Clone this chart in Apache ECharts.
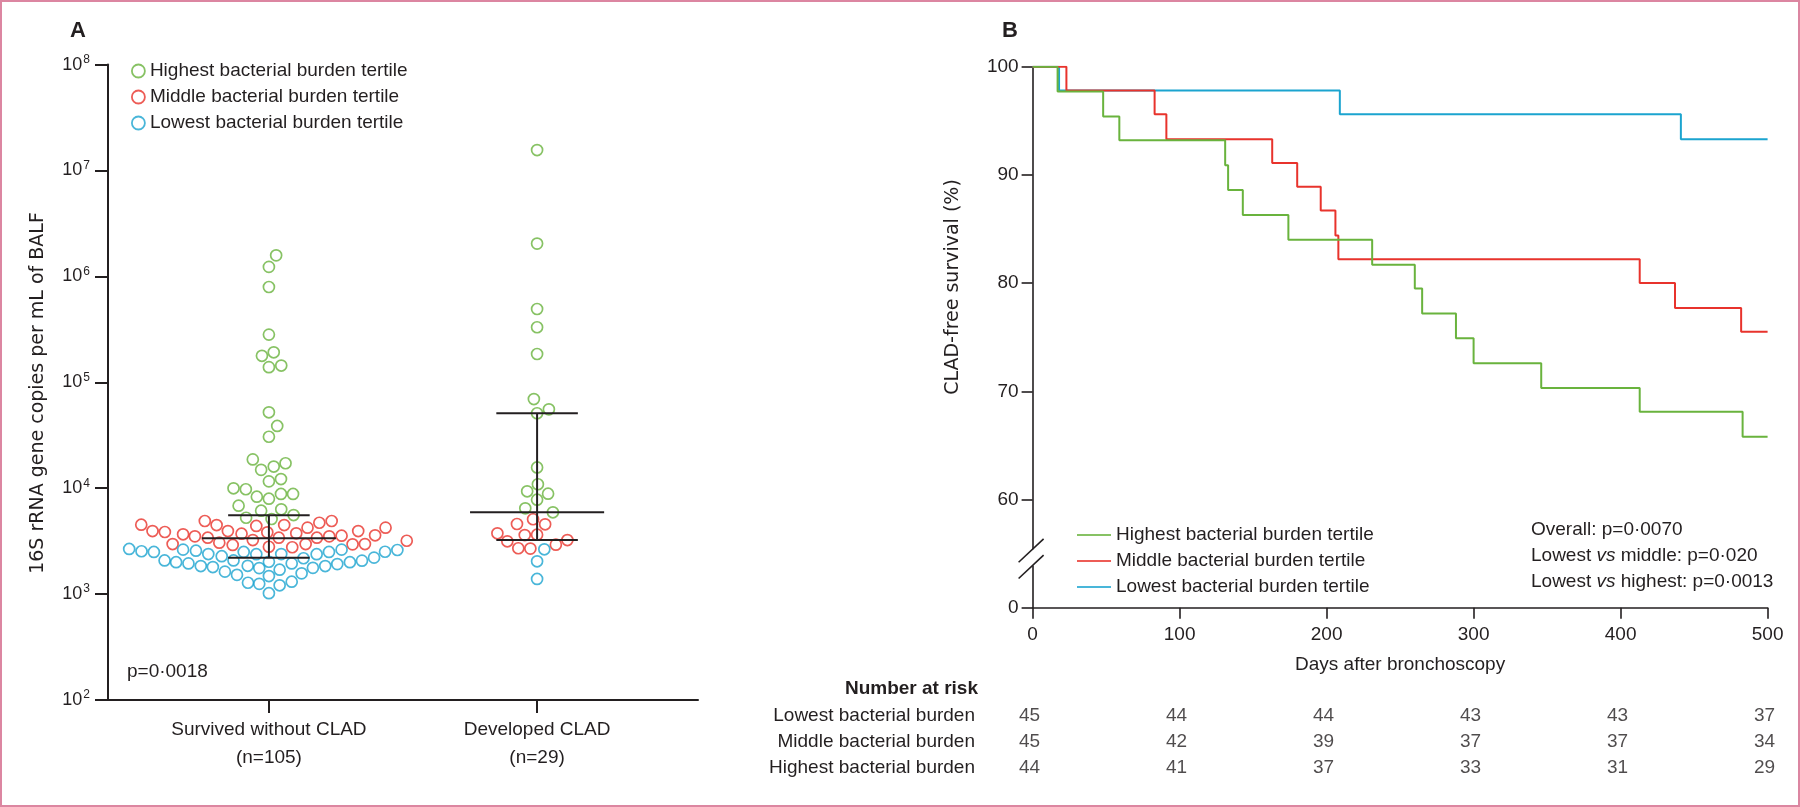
<!DOCTYPE html>
<html><head><meta charset="utf-8">
<script src="https://cdn.jsdelivr.net/npm/echarts@6/dist/echarts.min.js"></script>
<style>html,body{margin:0;padding:0;background:#fff}#c{width:1800px;height:807px}</style>
</head><body><div id="c"></div>
<script>
const FONT = '"Liberation Sans", Arial, sans-serif';
const TITLE_FONT = '"DejaVu Sans", "Liberation Sans", sans-serif';
const INK = '#231f20';
const GREEN = '#69b33d', RED = '#e8332c', BLUE = '#1ba4cf';
const COLORS = [GREEN, RED, BLUE];

// ---------- Panel A data ----------
const groupNames = ['Survived without CLAD\n(n=105)', 'Developed CLAD\n(n=29)'];
const tertileNames = ['Highest bacterial burden tertile', 'Middle bacterial burden tertile', 'Lowest bacterial burden tertile'];
const yTickExponents = [2, 3, 4, 5, 6, 7, 8];

// values: 16S rRNA gene copies per mL; jitter: horizontal swarm offset (category units)
const survivedHighVals = [1.58e6, 1.23e6, 7.94e5, 2.82e5, 1.78e5, 1.92e5, 1.39e5, 1.44e5, 5.21e4, 3.87e4, 3.06e4, 1.87e4, 1.60e4, 1.72e4, 1.49e4, 1.16e4, 1.22e4, 9980, 9770, 8310, 7960, 8820, 8820, 6840, 6130, 6320, 5260, 5120, 5580];
const survivedHighJitter = [0.027, 0, 0, 0, -0.026, 0.018, 0, 0.046, 0, 0.031, 0, -0.060, 0.018, 0.062, -0.029, 0, 0.045, -0.132, -0.086, -0.045, 0, 0.045, 0.090, -0.113, -0.029, 0.046, -0.085, 0.010, 0.092];
const survivedMidVals = [4520, 3940, 3860, 2970, 3670, 3510, 4900, 3410, 4490, 3060, 3940, 2910, 3720, 3240, 4400, 3830, 2800, 3410, 4490, 2770, 3750, 2970, 4240, 3410, 4720, 3510, 4900, 3560, 2950, 3940, 2970, 3590, 4240, 3190];
const survivedMidJitter = [-0.476, -0.434, -0.388, -0.359, -0.320, -0.276, -0.239, -0.228, -0.195, -0.185, -0.153, -0.135, -0.102, -0.060, -0.047, -0.006, 0, 0.037, 0.057, 0.087, 0.102, 0.137, 0.144, 0.179, 0.188, 0.225, 0.234, 0.271, 0.312, 0.333, 0.358, 0.396, 0.435, 0.514];
const survivedLowVals = [2670, 2540, 2500, 2080, 2000, 2630, 1950, 2570, 1840, 2390, 1800, 2280, 1630, 2080, 1520, 2500, 1850, 1280, 2380, 1760, 1250, 2020, 1480, 1020, 1700, 1210, 2390, 1950, 1310, 1570, 2180, 1770, 2380, 1840, 2500, 1920, 2630, 2000, 2070, 2210, 2510, 2610];
const survivedLowJitter = [-0.521, -0.475, -0.429, -0.389, -0.346, -0.320, -0.300, -0.272, -0.254, -0.226, -0.209, -0.176, -0.164, -0.132, -0.119, -0.094, -0.079, -0.078, -0.047, -0.036, -0.036, 0, 0, 0, 0.040, 0.040, 0.046, 0.085, 0.085, 0.122, 0.129, 0.164, 0.178, 0.210, 0.224, 0.255, 0.271, 0.302, 0.347, 0.392, 0.433, 0.479];

const developedHighVals = [1.56e7, 2.04e6, 4.92e5, 3.31e5, 1.85e5, 6.95e4, 5.56e4, 5.10e4, 1.57e4, 1.09e4, 9350, 8870, 7790, 6460, 5920];
const developedHighJitter = [0, 0, 0, 0, 0, -0.012, 0.044, 0, 0, 0.003, -0.037, 0.041, 0, -0.044, 0.059];
const developedMidVals = [5090, 4590, 4560, 3750, 3610, 3640, 3150, 3240, 2710, 2690, 2930];
const developedMidJitter = [-0.015, -0.075, 0.030, -0.148, -0.046, 0, -0.111, 0.113, -0.070, -0.025, 0.070];
const developedLowVals = [2650, 2040, 1390];
const developedLowJitter = [0.027, 0, 0];

// median and interquartile range [q1, median, q3]
const survivedIQR = [2207, 3365, 5550];
const developedIQR = [3240, 5920, 51000];
const pValueA = 'p=0·0018';

// ---------- Panel B data ----------
const kmDaysHighest = [0, 17, 48, 59, 131, 133, 143, 174, 231, 260, 265, 288, 300, 346, 413, 483, 500];
const kmSurvHighest = [100, 97.7, 95.4, 93.2, 90.9, 88.6, 86.3, 84.0, 81.7, 79.5, 77.2, 74.9, 72.6, 70.3, 68.1, 65.8, 65.8];
const kmDaysMiddle = [0, 23, 83, 91, 163, 180, 196, 206, 208, 413, 437, 482, 500];
const kmSurvMiddle = [100, 97.8, 95.6, 93.3, 91.1, 88.9, 86.7, 84.4, 82.2, 80.0, 77.7, 75.5, 75.5];
const kmDaysLowest = [0, 18, 209, 441, 500];
const kmSurvLowest = [100, 97.8, 95.6, 93.3, 93.3];
const statsLines = ['Overall: p=0·0070', 'Lowest {i|vs} middle: p=0·020', 'Lowest {i|vs} highest: p=0·0013'];

const riskDays = [0, 100, 200, 300, 400, 500];
const riskRows = ['Lowest bacterial burden', 'Middle bacterial burden', 'Highest bacterial burden'];
const riskLowest = [45, 44, 44, 43, 43, 37];
const riskMiddle = [45, 42, 39, 37, 37, 34];
const riskHighest = [44, 41, 37, 33, 31, 29];

// ---------- build ----------
function swarm(cat, vals, jit) { return vals.map((v, i) => [cat + jit[i], v]); }
const swarmData = [
  swarm(0, survivedHighVals, survivedHighJitter).concat(swarm(1, developedHighVals, developedHighJitter)),
  swarm(0, survivedMidVals, survivedMidJitter).concat(swarm(1, developedMidVals, developedMidJitter)),
  swarm(0, survivedLowVals, survivedLowJitter).concat(swarm(1, developedLowVals, developedLowJitter))
];
const kmData = [
  kmDaysHighest.map((d, i) => [d, kmSurvHighest[i]]),
  kmDaysMiddle.map((d, i) => [d, kmSurvMiddle[i]]),
  kmDaysLowest.map((d, i) => [d, kmSurvLowest[i]])
];
const riskTable = [riskLowest, riskMiddle, riskHighest];
const riskData = [];
riskTable.forEach((row, r) => row.forEach((n, i) => riskData.push([riskDays[i], riskRows[r], n])));

const txt = { fontFamily: FONT, fontSize: 19, color: INK };

const series = [];
swarmData.forEach((d, i) => series.push({
  type: 'scatter', name: tertileNames[i], xAxisIndex: 0, yAxisIndex: 0,
  symbol: 'circle', symbolSize: 11, data: d, z: 2,
  itemStyle: { color: 'rgba(255,255,255,0)', borderColor: COLORS[i], borderWidth: 1.7 },
  emphasis: { disabled: true }
}));
series.push({
  type: 'custom', xAxisIndex: 0, yAxisIndex: 0, z: 5, silent: true,
  data: [[0].concat(survivedIQR), [1].concat(developedIQR)],
  renderItem: function (params, api) {
    const x = api.value(0), lo = api.value(1), med = api.value(2), hi = api.value(3);
    const ls = { stroke: INK, lineWidth: 2 };
    function seg(a, b) { return { type: 'line', shape: { x1: a[0], y1: a[1], x2: b[0], y2: b[1] }, style: ls }; }
    const wW = 0.152, wM = 0.25;
    return { type: 'group', children: [
      seg(api.coord([x, lo]), api.coord([x, hi])),
      seg(api.coord([x - wW, hi]), api.coord([x + wW, hi])),
      seg(api.coord([x - wW, lo]), api.coord([x + wW, lo])),
      seg(api.coord([x - wM, med]), api.coord([x + wM, med]))
    ] };
  }
});
kmData.forEach((d, i) => series.push({
  type: 'line', name: tertileNames[i], xAxisIndex: 1, yAxisIndex: 1, step: 'end',
  symbol: 'none', data: d, lineStyle: { color: COLORS[i], width: 2 }, itemStyle: { color: COLORS[i] },
  z: 3 - i, emphasis: { disabled: true }
}));
series.push({
  type: 'scatter', xAxisIndex: 2, yAxisIndex: 2, symbolSize: 1, silent: true,
  itemStyle: { color: 'rgba(0,0,0,0)' }, data: riskData,
  label: { show: true, position: 'inside', offset: [-3, 0], formatter: p => String(p.value[2]), ...txt }
});

const chart = echarts.init(document.getElementById('c'), null, { renderer: 'canvas' });
const option = {
  animation: false,
  backgroundColor: '#fff',
  textStyle: { fontFamily: FONT },
  grid: [
    { left: 108, top: 64.6, width: 590, height: 635.4 },
    { left: 1032.6, top: 66.7, width: 735, height: 541 },
    { left: 1032.6, top: 702.7, width: 735, height: 78 }
  ],
  xAxis: [
    { type: 'value', gridIndex: 0, min: -0.6, max: 1.6,
      axisLine: { onZero: false, lineStyle: { color: INK, width: 2 } },
      axisTick: { show: true, length: 13, customValues: [0, 1], lineStyle: { color: INK, width: 2 } },
      axisLabel: { customValues: [0, 1], formatter: v => groupNames[Math.round(v)], margin: 16, lineHeight: 28, ...txt },
      splitLine: { show: false } },
    { type: 'value', gridIndex: 1, min: 0, max: 500, interval: 100,
      axisLine: { onZero: false, lineStyle: { color: INK, width: 1.6 } },
      axisTick: { length: 11, lineStyle: { color: INK, width: 1.6 } },
      axisLabel: { margin: 18, ...txt },
      splitLine: { show: false },
      name: 'Days after bronchoscopy', nameLocation: 'middle', nameGap: 48, nameTextStyle: { ...txt } },
    { type: 'value', gridIndex: 2, min: 0, max: 500, show: false }
  ],
  yAxis: [
    { type: 'log', logBase: 10, gridIndex: 0, min: 100, max: 1e8,
      axisLine: { show: true, onZero: false, lineStyle: { color: INK, width: 2 } },
      axisTick: { show: true, length: 13, customValues: yTickExponents.map(e => Math.pow(10, e)), lineStyle: { color: INK, width: 2 } },
      axisLabel: { customValues: yTickExponents.map(e => Math.pow(10, e)), margin: 18,
        formatter: v => '{b|10}{s|' + Math.round(Math.log10(v)) + '}',
        rich: { b: { fontFamily: FONT, fontSize: 18, color: INK, lineHeight: 22 },
                s: { fontFamily: FONT, fontSize: 12, color: INK, lineHeight: 12, verticalAlign: 'top', padding: [0, 0, 6, 1] } } },
      splitLine: { show: false } },
    { type: 'value', gridIndex: 1, min: 50, max: 100, interval: 10,
      axisLine: { show: true, onZero: false, lineStyle: { color: INK, width: 1.6 } },
      axisTick: { show: true, length: 11, lineStyle: { color: INK, width: 1.6 } },
      axisLabel: { margin: 14, formatter: v => (v === 50 ? '0' : String(v)), ...txt },
      splitLine: { show: false } },
    { type: 'category', gridIndex: 2, data: riskRows, inverse: true,
      axisLine: { show: false }, axisTick: { show: false },
      axisLabel: { margin: 57.6, ...txt } }
  ],
  legend: [
    { orient: 'vertical', left: 126, top: 56, itemWidth: 13, itemHeight: 13, itemGap: 6,
      selectedMode: false,
      textStyle: { ...txt, lineHeight: 20 },
      data: tertileNames.map((n, i) => ({ name: n, icon: 'circle',
        itemStyle: { color: 'rgba(255,255,255,0)', borderColor: COLORS[i], borderWidth: 1.8 } })) },
    { orient: 'vertical', left: 1072, top: 520, itemWidth: 34, itemHeight: 2, itemGap: 6,
      selectedMode: false,
      textStyle: { ...txt, lineHeight: 20 },
      data: tertileNames.map((n, i) => ({ name: n, icon: 'rect',
        itemStyle: { color: COLORS[i], borderWidth: 0 } })) }
  ],
  graphic: [
    { id: 'border', type: 'rect', shape: { x: 1, y: 1, width: 1798, height: 805 }, style: { fill: 'none', stroke: '#dc86a1', lineWidth: 2 }, silent: true },
    { id: 'lblA', type: 'text', x: 78, y: 31, style: { text: 'A', font: 'bold 22px ' + FONT, fill: INK, align: 'center', verticalAlign: 'middle' } },
    { id: 'lblB', type: 'text', x: 1010, y: 31, style: { text: 'B', font: 'bold 22px ' + FONT, fill: INK, align: 'center', verticalAlign: 'middle' } },
    { id: 'ynameA', type: 'text', x: 38, y: 393, rotation: Math.PI / 2, style: { text: '16S rRNA gene copies per mL of BALF', font: '19px ' + TITLE_FONT, fill: INK, align: 'center', verticalAlign: 'middle' } },
    { id: 'ynameB', type: 'text', x: 953, y: 287, rotation: Math.PI / 2, style: { text: 'CLAD-free survival (%)', font: '19px ' + TITLE_FONT, fill: INK, align: 'center', verticalAlign: 'middle' } },
    { id: 'pA', type: 'text', x: 127, y: 672, style: { text: pValueA, font: '19px ' + FONT, fill: INK, align: 'left', verticalAlign: 'middle' } },
    { id: 'nar', type: 'text', x: 978, y: 689, style: { text: 'Number at risk', font: 'bold 19px ' + FONT, fill: INK, align: 'right', verticalAlign: 'middle' } }
  ].concat(statsLines.map((s, i) => ({
    id: 'stat' + i, type: 'text', x: 1531, y: 530 + i * 26,
    style: { text: s, fontFamily: FONT, fontSize: 19, fill: INK, align: 'left', verticalAlign: 'middle',
      rich: { i: { fontFamily: FONT, fontSize: 19, fontStyle: 'italic', color: INK } } }
  }))),
  series: series
};
chart.setOption(option);

// axis break marks on panel B y axis
const bTop = chart.convertToPixel({ xAxisIndex: 1, yAxisIndex: 1 }, [0, 55.4]);
const bBot = chart.convertToPixel({ xAxisIndex: 1, yAxisIndex: 1 }, [0, 53.9]);
function slash(p, id) {
  return { id: id, type: 'line', shape: { x1: p[0] - 14, y1: p[1] + 13, x2: p[0] + 11, y2: p[1] - 10.4 }, style: { stroke: INK, lineWidth: 1.6 }, z: 20 };
}
chart.setOption({ graphic: [
  { id: 'gap', type: 'rect', shape: { x: bTop[0] - 4, y: bTop[1], width: 8, height: bBot[1] - bTop[1] }, style: { fill: '#fff' }, z: 19 },
  slash(bTop, 'sl1'), slash(bBot, 'sl2')
] });
</script>
</body></html>
